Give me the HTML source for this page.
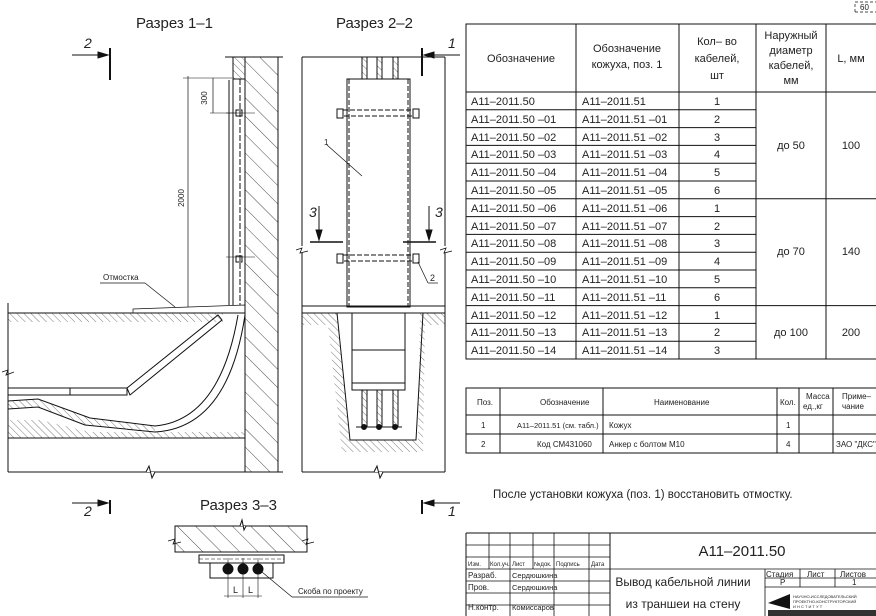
<!DOCTYPE html>
<html><head><meta charset="utf-8"><style>
html,body{margin:0;padding:0;background:#fff;}
svg{display:block;}
text{font-family:"Liberation Sans","DejaVu Sans",sans-serif;fill:#222;}
</style></head><body>
<svg width="876" height="616" viewBox="0 0 876 616" xmlns="http://www.w3.org/2000/svg">
<defs>
<pattern id="h1" width="13" height="13" patternUnits="userSpaceOnUse" patternTransform="rotate(-45)"><line x1="0" y1="0" x2="0" y2="13" stroke="#222" stroke-width="0.8"/></pattern>
<pattern id="h3" width="5" height="5" patternUnits="userSpaceOnUse" patternTransform="rotate(-45)"><line x1="0" y1="0" x2="0" y2="5" stroke="#222" stroke-width="0.6"/></pattern>
</defs>
<g stroke="#111" fill="none" stroke-width="1">

<!-- ========== Section 1-1 ========== -->
<rect x="245" y="57" width="33" height="415" fill="url(#h1)"/>
<rect x="233" y="57" width="12" height="22" fill="url(#h3)"/>
<line x1="225" y1="57" x2="283" y2="57"/>
<line x1="233" y1="79" x2="233" y2="305"/>
<line x1="240" y1="79" x2="240" y2="305" stroke-dasharray="6,2"/>
<line x1="229" y1="80" x2="229" y2="305"/>
<rect x="236" y="110" width="6" height="6"/>
<rect x="236" y="256" width="6" height="6"/>
<line x1="226" y1="113" x2="255" y2="113" stroke-width="0.6"/>
<line x1="226" y1="257" x2="255" y2="257" stroke-width="0.6"/>
<line x1="188" y1="76" x2="188" y2="307" stroke-width="0.7"/>
<line x1="183" y1="78" x2="232" y2="78" stroke-width="0.6"/>
<line x1="213" y1="78" x2="213" y2="113" stroke-width="0.7"/>
<line x1="210" y1="113" x2="236" y2="113" stroke-width="0.6"/>
<text x="207" y="98" font-size="8" transform="rotate(-90 207 98)" text-anchor="middle" stroke="none">300</text>
<text x="184" y="198" font-size="8" transform="rotate(-90 184 198)" text-anchor="middle" stroke="none">2000</text>
<text x="103" y="280" font-size="8" stroke="none">Отмостка</text>
<line x1="100" y1="283" x2="145" y2="283" stroke-width="0.7"/>
<line x1="145" y1="283" x2="175" y2="307" stroke-width="0.7"/>
<path d="M133 309 L245 305 L245 313 L133 313 Z" stroke-width="0.7"/>
<line x1="8" y1="313" x2="245" y2="313"/>
<rect x="8" y="313" width="215" height="9" fill="url(#h3)" stroke="none"/>
<line x1="8" y1="303" x2="8" y2="472"/>
<path d="M2 372 L8 370 L6 375 L14 372" stroke-width="0.8"/>
<line x1="8" y1="472" x2="283" y2="472"/>
<path d="M146 472 L149 466 L152 478 L155 472" fill="#fff"/>
<line x1="8" y1="438" x2="245" y2="438"/>
<path d="M8 420 L40 420 L90 432 L245 432 L245 438 L8 438 Z" fill="url(#h3)" stroke="none"/>
<rect x="8" y="388" width="119" height="7"/>
<line x1="70" y1="388" x2="70" y2="395"/>
<path d="M127 388 L218 315 L222 320 L130 395 Z"/>
<path d="M8 401 L38 399 L90 418 L155 426 Q220 420 238 315" />
<path d="M8 409 L38 407 L85 425 L155 432 Q228 428 245 315"/>
<path d="M8 401 L38 399 L90 418 L155 426 L155 432 L85 425 L38 407 L8 409Z" fill="url(#h3)" stroke="none"/>
<line x1="110" y1="48" x2="110" y2="80" stroke-width="2"/>
<line x1="72" y1="55" x2="98" y2="55"/>
<path d="M98 52 L108 55 L98 58 Z" fill="#111"/>
<text x="84" y="48" font-size="14" font-style="italic" stroke="none">2</text>
<line x1="110" y1="500" x2="110" y2="514" stroke-width="2"/>
<line x1="72" y1="503" x2="98" y2="503"/>
<path d="M98 500 L108 503 L98 506 Z" fill="#111"/>
<text x="84" y="516" font-size="14" font-style="italic" stroke="none">2</text>

<!-- ========== Section 2-2 ========== -->
<line x1="302" y1="57" x2="445" y2="57"/>
<line x1="302" y1="57" x2="302" y2="246"/>
<line x1="302" y1="253" x2="302" y2="472"/>
<path d="M296 250 L302 248 L300 253 L308 251" stroke-width="0.8"/>
<line x1="445" y1="57" x2="445" y2="246"/>
<line x1="445" y1="253" x2="445" y2="472"/>
<path d="M440 250 L446 248 L444 253 L452 251" stroke-width="0.8"/>
<line x1="302" y1="472" x2="445" y2="472"/>
<path d="M374 472 L377 466 L380 478 L383 472" fill="#fff"/>
<rect x="347" y="79" width="63" height="228"/>
<line x1="349" y1="79" x2="349" y2="307" stroke-dasharray="5,2"/>
<line x1="408" y1="79" x2="408" y2="307" stroke-dasharray="5,2"/>
<rect x="362" y="57" width="5" height="22" fill="url(#h3)"/>
<rect x="377" y="57" width="5" height="22" fill="url(#h3)"/>
<rect x="393" y="57" width="5" height="22" fill="url(#h3)"/>
<rect x="343" y="110" width="70" height="6" stroke-dasharray="5,2"/>
<rect x="337" y="109" width="6" height="9"/><rect x="413" y="109" width="6" height="9"/>
<rect x="343" y="255" width="70" height="6" stroke-dasharray="5,2"/>
<rect x="337" y="254" width="6" height="9"/><rect x="413" y="254" width="6" height="9"/>
<line x1="327" y1="145" x2="362" y2="176" stroke-width="0.7"/>
<text x="324" y="145" font-size="8" stroke="none">1</text>
<line x1="418" y1="262" x2="428" y2="283" stroke-width="0.7"/>
<line x1="428" y1="283" x2="438" y2="283" stroke-width="0.7"/>
<text x="430" y="281" font-size="9" stroke="none">2</text>
<line x1="310" y1="242" x2="343" y2="242" stroke-width="1.5"/>
<line x1="319" y1="206" x2="319" y2="232"/>
<path d="M316 230 L319 240 L322 230 Z" fill="#111"/>
<text x="309" y="217" font-size="14" font-style="italic" stroke="none">3</text>
<line x1="403" y1="242" x2="436" y2="242" stroke-width="1.5"/>
<line x1="429" y1="206" x2="429" y2="232"/>
<path d="M426 230 L429 240 L432 230 Z" fill="#111"/>
<text x="435" y="217" font-size="14" font-style="italic" stroke="none">3</text>
<line x1="422" y1="48" x2="422" y2="76" stroke-width="2"/>
<line x1="434" y1="55" x2="460" y2="55"/>
<path d="M434 52 L424 55 L434 58 Z" fill="#111"/>
<text x="448" y="48" font-size="14" font-style="italic" stroke="none">1</text>
<line x1="422" y1="500" x2="422" y2="514" stroke-width="2"/>
<line x1="434" y1="503" x2="460" y2="503"/>
<path d="M434 500 L424 503 L434 506 Z" fill="#111"/>
<text x="448" y="516" font-size="14" font-style="italic" stroke="none">1</text>
<line x1="302" y1="306" x2="445" y2="306"/>
<line x1="302" y1="313" x2="445" y2="313"/>
<path d="M302 313 L337 313 L350 440 L418 440 L420 313 L445 313 L445 325 L425 325 L423 452 L342 452 L328 325 L302 325 Z" fill="url(#h3)" stroke="none"/>
<path d="M337 313 L350 440 L416 440 L423 313"/>
<rect x="352" y="313" width="53" height="77" fill="#fff"/>
<line x1="352" y1="350" x2="405" y2="350"/>
<line x1="352" y1="383" x2="405" y2="383"/>
<rect x="362" y="390" width="5" height="36" fill="url(#h3)"/>
<rect x="377" y="390" width="5" height="36" fill="url(#h3)"/>
<rect x="393" y="390" width="5" height="36" fill="url(#h3)"/>
<line x1="356" y1="427" x2="402" y2="427"/>
<circle cx="364" cy="427" r="2.5" fill="#111"/><circle cx="379" cy="427" r="2.5" fill="#111"/><circle cx="395" cy="427" r="2.5" fill="#111"/>

<!-- ========== Section 3-3 ========== -->
<rect x="175" y="526" width="132" height="26" fill="url(#h1)"/>
<path d="M168 541 L175 539 L173 544 L181 542" stroke-width="0.8"/>
<path d="M302 541 L308 539 L306 544 L314 542" stroke-width="0.8"/>
<path d="M240 526 L242 520 L244 530 L246 526" fill="#fff"/>
<rect x="199" y="555" width="85" height="8"/>
<line x1="199" y1="559" x2="284" y2="559" stroke-dasharray="4,2" stroke-width="0.6"/>
<rect x="210" y="563" width="63" height="15"/>
<circle cx="228" cy="569" r="5" fill="#111"/><circle cx="243" cy="569" r="5" fill="#111"/><circle cx="258" cy="569" r="5" fill="#111"/>
<line x1="228" y1="558" x2="228" y2="598" stroke-width="0.6"/>
<line x1="243" y1="558" x2="243" y2="598" stroke-width="0.6"/>
<line x1="258" y1="558" x2="258" y2="598" stroke-width="0.6"/>
<line x1="224" y1="596" x2="262" y2="596" stroke-width="0.6"/>
<line x1="262" y1="572" x2="292" y2="597" stroke-width="0.7"/>
<line x1="292" y1="597" x2="368" y2="597" stroke-width="0.7"/>

<!-- ========== Main table ========== -->
<rect x="466" y="24" width="420" height="335"/>
<line x1="466" y1="92" x2="876" y2="92"/>
<line x1="576" y1="24" x2="576" y2="359"/>
<line x1="679" y1="24" x2="679" y2="359"/>
<line x1="756" y1="24" x2="756" y2="359"/>
<line x1="826" y1="24" x2="826" y2="359"/>
<path d="M466 109.8H756M466 127.6H756M466 145.4H756M466 163.2H756M466 181H756M466 198.8H876M466 216.6H756M466 234.4H756M466 252.2H756M466 270H756M466 287.8H756M466 305.6H876M466 323.4H756M466 341.2H756"/>
<path d="M855 12 V2 H876 M855 12 H876" stroke-dasharray="3,2" stroke-width="0.7"/>

<!-- ========== Bottom spec table ========== -->
<rect x="466" y="388" width="420" height="65"/>
<line x1="466" y1="415" x2="876" y2="415"/>
<line x1="466" y1="434" x2="876" y2="434"/>
<line x1="500" y1="388" x2="500" y2="453"/>
<line x1="603" y1="388" x2="603" y2="453"/>
<line x1="777" y1="388" x2="777" y2="453"/>
<line x1="799" y1="388" x2="799" y2="453"/>
<line x1="833" y1="388" x2="833" y2="453"/>

<!-- ========== Title block ========== -->
<line x1="466" y1="533" x2="876" y2="533"/>
<line x1="466" y1="533" x2="466" y2="616"/>
<line x1="610" y1="533" x2="610" y2="616"/>
<path d="M466 545H610M466 557H610M466 569H876M466 581H610M466 593H610M466 605H610" stroke-width="0.8"/>
<path d="M489 533V569M510 533V616M533 533V569M554 533V616M589 533V616" stroke-width="0.8"/>
<path d="M765 569V616M800 569V587M835 569V587M765 578H876M765 587H876" stroke-width="0.8"/>
</g>

<g font-size="15" stroke="none">
<text x="136" y="28">Разрез 1–1</text>
<text x="336" y="28">Разрез 2–2</text>
<text x="200" y="510">Разрез 3–3</text>
</g>
<g font-size="9">
<text x="233" y="593">L</text><text x="248" y="593">L</text>
<text x="298" y="594" font-size="8">Скоба по проекту</text>
<text x="860" y="10" font-size="8">60</text>
</g>

<g font-size="11" text-anchor="middle">
<text x="521" y="62">Обозначение</text>
<text x="627" y="52">Обозначение</text>
<text x="627" y="68">кожуха,  поз. 1</text>
<text x="717" y="45">Кол– во</text>
<text x="717" y="62">кабелей,</text>
<text x="717" y="79">шт</text>
<text x="791" y="39">Наружный</text>
<text x="791" y="54">диаметр</text>
<text x="791" y="69">кабелей,</text>
<text x="791" y="84">мм</text>
<text x="851" y="62">L,  мм</text>
<text x="791" y="149">до 50</text><text x="851" y="149">100</text>
<text x="791" y="255">до 70</text><text x="851" y="255">140</text>
<text x="791" y="336">до 100</text><text x="851" y="336">200</text>
</g>
<g font-size="11">
<text x="471" y="105">A11–2011.50</text>
<text x="471" y="123">A11–2011.50 –01</text>
<text x="471" y="141">A11–2011.50 –02</text>
<text x="471" y="158">A11–2011.50 –03</text>
<text x="471" y="176">A11–2011.50 –04</text>
<text x="471" y="194">A11–2011.50 –05</text>
<text x="471" y="212">A11–2011.50 –06</text>
<text x="471" y="230">A11–2011.50 –07</text>
<text x="471" y="247">A11–2011.50 –08</text>
<text x="471" y="265">A11–2011.50 –09</text>
<text x="471" y="283">A11–2011.50 –10</text>
<text x="471" y="301">A11–2011.50 –11</text>
<text x="471" y="319">A11–2011.50 –12</text>
<text x="471" y="336">A11–2011.50 –13</text>
<text x="471" y="354">A11–2011.50 –14</text>
<text x="582" y="105">A11–2011.51</text>
<text x="582" y="123">A11–2011.51  –01</text>
<text x="582" y="141">A11–2011.51  –02</text>
<text x="582" y="158">A11–2011.51  –03</text>
<text x="582" y="176">A11–2011.51  –04</text>
<text x="582" y="194">A11–2011.51  –05</text>
<text x="582" y="212">A11–2011.51  –06</text>
<text x="582" y="230">A11–2011.51  –07</text>
<text x="582" y="247">A11–2011.51  –08</text>
<text x="582" y="265">A11–2011.51  –09</text>
<text x="582" y="283">A11–2011.51  –10</text>
<text x="582" y="301">A11–2011.51  –11</text>
<text x="582" y="319">A11–2011.51  –12</text>
<text x="582" y="336">A11–2011.51  –13</text>
<text x="582" y="354">A11–2011.51  –14</text>
</g>
<g font-size="11" text-anchor="middle">
<text x="717" y="105">1</text><text x="717" y="123">2</text><text x="717" y="141">3</text><text x="717" y="158">4</text><text x="717" y="176">5</text><text x="717" y="194">6</text>
<text x="717" y="212">1</text><text x="717" y="230">2</text><text x="717" y="247">3</text><text x="717" y="265">4</text><text x="717" y="283">5</text><text x="717" y="301">6</text>
<text x="717" y="319">1</text><text x="717" y="336">2</text><text x="717" y="354">3</text>
</g>

<g font-size="8">
<text x="477" y="405">Поз.</text>
<text x="540" y="405">Обозначение</text>
<text x="654" y="405">Наименование</text>
<text x="780" y="405">Кол.</text>
<text x="806" y="399">Масса</text><text x="803" y="409">ед.,кг</text>
<text x="842" y="399">Приме–</text><text x="842" y="409">чание</text>
<text x="481" y="428">1</text>
<text x="517" y="428" font-size="7.5">A11–2011.51 (см. табл.)</text>
<text x="609" y="428">Кожух</text>
<text x="786" y="428">1</text>
<text x="481" y="447">2</text>
<text x="537" y="447">Код СМ431060</text>
<text x="609" y="447">Анкер с болтом М10</text>
<text x="786" y="447">4</text>
<text x="836" y="447">ЗАО "ДКС"</text>
</g>
<text x="493" y="498" font-size="11.5">После установки кожуха (поз. 1) восстановить отмостку.</text>

<g font-size="6">
<text x="468" y="566">Изм.</text><text x="490" y="566">Кол.уч.</text><text x="512" y="566">Лист</text><text x="534" y="566">№док.</text><text x="556" y="566">Подпись</text><text x="591" y="566">Дата</text>
</g>
<g font-size="8">
<text x="468" y="578">Разраб.</text><text x="512" y="578" font-size="7.5">Сердюшкина</text>
<text x="468" y="590">Пров.</text><text x="512" y="590" font-size="7.5">Сердюшкина</text>
<text x="468" y="610">Н.контр.</text><text x="512" y="610" font-size="7.5">Комиссаров</text>
<text x="766" y="577">Стадия</text><text x="807" y="577">Лист</text><text x="840" y="577">Листов</text>
<text x="780" y="585">Р</text><text x="852" y="585">1</text>
</g>
<text x="742" y="556" font-size="15" text-anchor="middle">A11–2011.50</text>
<text x="683" y="586" font-size="12" text-anchor="middle">Вывод кабельной линии</text>
<text x="683" y="608" font-size="12" text-anchor="middle">из траншеи на стену</text>
<path d="M768 603 L790 594 L790 609 Z" fill="#111"/>
<rect x="768" y="610" width="108" height="6" fill="#333"/>
<text x="793" y="598" font-size="4">НАУЧНО-ИССЛЕДОВАТЕЛЬСКИЙ</text>
<text x="793" y="603" font-size="4">ПРОЕКТНО-КОНСТРУКТОРСКИЙ</text>
<text x="793" y="608" font-size="4">И Н С Т И Т У Т</text>
</svg>
</body></html>
